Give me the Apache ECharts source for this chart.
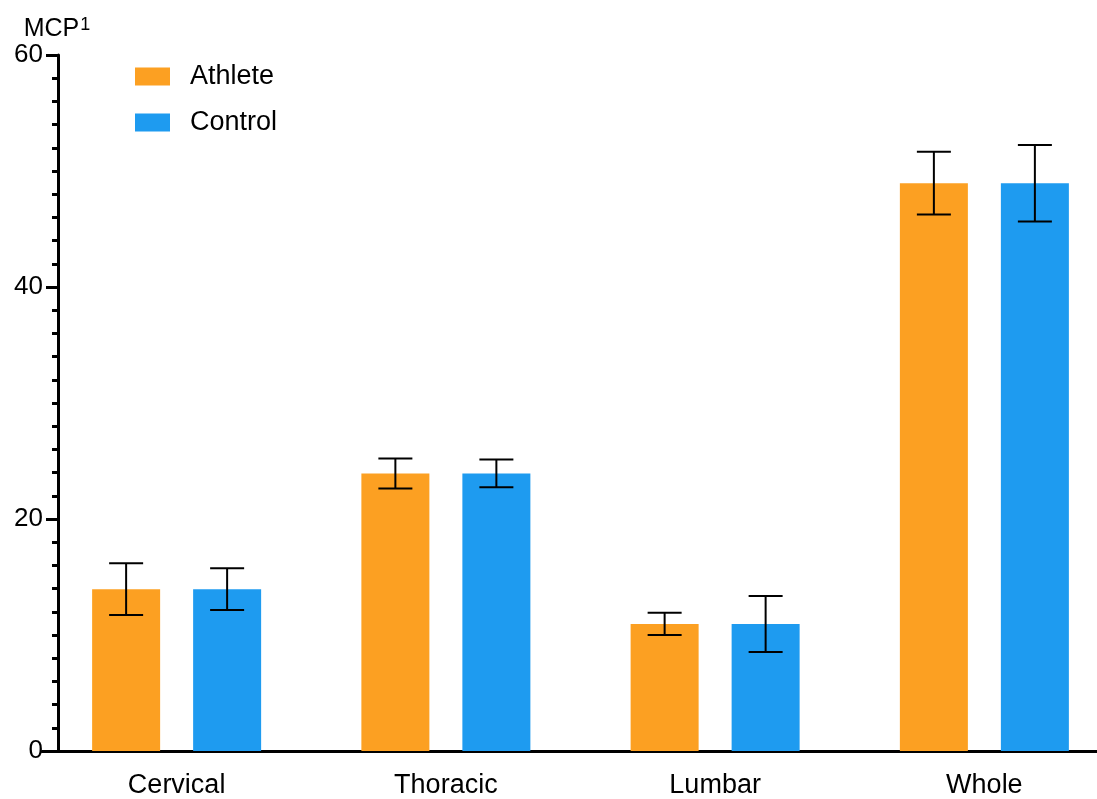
<!DOCTYPE html>
<html>
<head>
<meta charset="utf-8">
<script src="https://cdn.jsdelivr.net/npm/echarts@6/dist/echarts.min.js"></script>
<style>html,body{margin:0;padding:0;background:#fff;overflow:hidden;width:1097px;height:799px}#c{width:1119px;height:799px}</style>
</head>
<body>
<div id="c"></div>
<script>
var categories = ['Cervical', 'Thoracic', 'Lumbar', 'Whole'];
var seriesNames = ['Athlete', 'Control'];
var athleteMean = [13.95, 23.93, 10.95, 48.95];
var athleteErr = [2.23, 1.29, 0.96, 2.71];
var controlMean = [13.95, 23.93, 10.95, 48.95];
var controlErr = [1.8, 1.2, 2.41, 3.3];
var yTicks = [0, 20, 40, 60];

var colors = ['#FCA022', '#1E9BF0'];
var BAR_W = 68, BAR_GAP = 33, CAP_W = 34;
var FONT = '"Liberation Sans", Arial, Helvetica, sans-serif';

function errSeries(idx, means, errs) {
  var sign = idx === 0 ? -1 : 1;
  return {
    type: 'custom',
    name: seriesNames[idx] + ' SD',
    z: 10,
    silent: true,
    data: means.map(function (m, i) { return [i, m - errs[i], m + errs[i]]; }),
    encode: { x: 0, y: [1, 2] },
    renderItem: function (params, api) {
      var off = sign * (BAR_W + BAR_GAP) / 2;
      var lo = api.coord([api.value(0), api.value(1)]);
      var hi = api.coord([api.value(0), api.value(2)]);
      var x = lo[0] + off;
      var st = { stroke: '#000', lineWidth: 2 };
      return {
        type: 'group',
        children: [
          { type: 'line', shape: { x1: x, y1: hi[1], x2: x, y2: lo[1] }, style: st },
          { type: 'line', shape: { x1: x - CAP_W / 2, y1: hi[1], x2: x + CAP_W / 2, y2: hi[1] }, style: st },
          { type: 'line', shape: { x1: x - CAP_W / 2, y1: lo[1], x2: x + CAP_W / 2, y2: lo[1] }, style: st }
        ]
      };
    }
  };
}

var chart = echarts.init(document.getElementById('c'), null, { renderer: 'canvas' });
chart.setOption({
  animation: false,
  backgroundColor: '#fff',
  textStyle: { fontFamily: FONT },
  grid: { left: 42, right: 0, top: 55, bottom: 47, containLabel: false },
  legend: {
    orient: 'vertical',
    left: 135,
    top: 63,
    padding: 0,
    itemWidth: 35,
    itemHeight: 18,
    itemGap: 19,
    icon: 'rect',
    data: seriesNames,
    textStyle: { fontSize: 27, color: '#000', fontFamily: FONT, padding: [0, 0, 0, 15] }
  },
  xAxis: {
    type: 'category',
    data: categories,
    boundaryGap: true,
    axisLine: { lineStyle: { color: '#000', width: 3 } },
    axisTick: { alignWithLabel: true, length: 12, lineStyle: { color: '#000', width: 3 } },
    axisLabel: { fontSize: 27, color: '#000', margin: 21, fontFamily: FONT },
    splitLine: { show: false }
  },
  yAxis: {
    type: 'value',
    min: 0,
    max: 60,
    interval: 20,
    offset: -16,
    name: '{m|MCP}{sup|1}',
    nameLocation: 'end',
    nameGap: 10,
    nameTextStyle: {
      fontSize: 25, color: '#000', fontFamily: FONT, align: 'center', padding: [0, 2, 0, 0],
      rich: {
        m: { fontSize: 25, color: '#000', fontFamily: FONT },
        sup: { fontSize: 18, color: '#000', fontFamily: FONT, verticalAlign: 'top', padding: [0, 0, 10, 1] }
      }
    },
    axisLine: { show: true, lineStyle: { color: '#000', width: 3 } },
    axisTick: { show: true, length: 12, lineStyle: { color: '#000', width: 3 } },
    minorTick: { show: true, splitNumber: 10, length: 6, lineStyle: { color: '#000', width: 3 } },
    axisLabel: {
      fontSize: 26, color: '#000', margin: 15, fontFamily: FONT,
      formatter: function (v) { return yTicks.indexOf(v) >= 0 ? String(v) : ''; }
    },
    splitLine: { show: false }
  },
  series: [
    { type: 'bar', name: seriesNames[0], data: athleteMean, barWidth: BAR_W, barGap: (BAR_GAP / BAR_W * 100) + '%', itemStyle: { color: colors[0] } },
    { type: 'bar', name: seriesNames[1], data: controlMean, barWidth: BAR_W, itemStyle: { color: colors[1] } },
    errSeries(0, athleteMean, athleteErr),
    errSeries(1, controlMean, controlErr)
  ]
});
</script>
</body>
</html>
